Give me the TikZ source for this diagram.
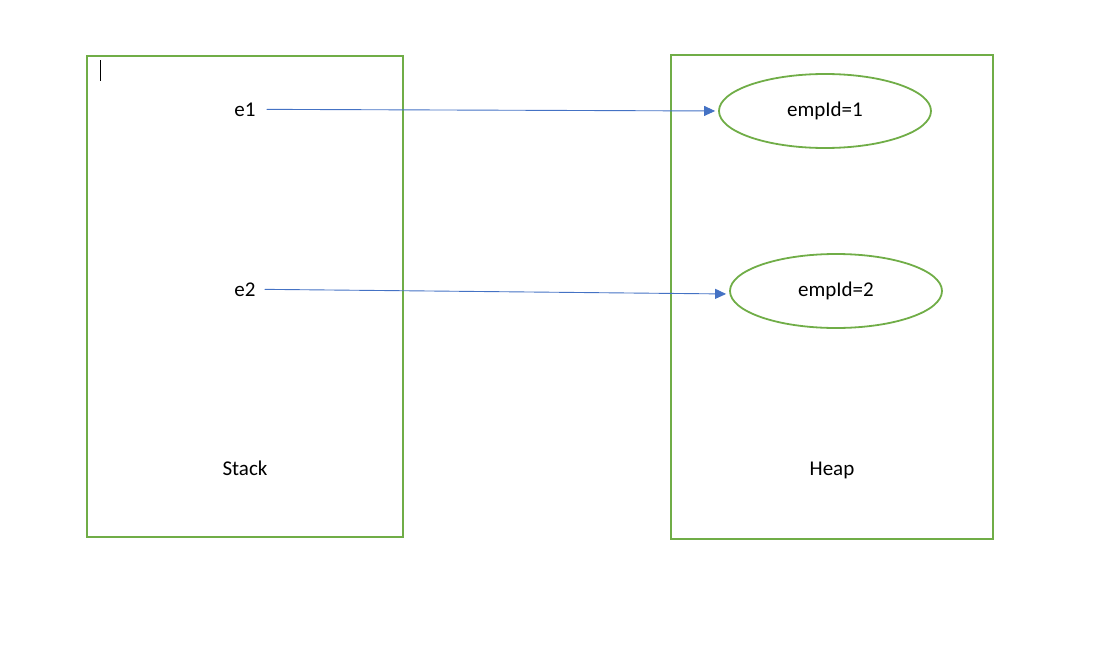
\documentclass[tikz,border=0pt]{standalone}
\usepackage{fontspec}
\setmainfont{Carlito}
\usetikzlibrary{shapes.geometric,arrows.meta,calc}
\definecolor{boxgreen}{HTML}{70AD47}
\definecolor{arrowblue}{HTML}{4472C4}
\tikzset{
  region/.style={draw=boxgreen, line width=1.8pt},
  obj/.style={ellipse, draw=boxgreen, line width=1.8pt, minimum width=212pt, minimum height=74pt, inner sep=0pt, font=\fontsize{21}{25}\selectfont},
  lbl/.style={font=\fontsize{21}{25}\selectfont, inner sep=0pt, anchor=base},
  ref/.style={draw=arrowblue, line width=0.9pt, -{Triangle[length=11pt,width=10pt]}}
}
\begin{document}
\begin{tikzpicture}[x=1pt,y=-1pt]
\useasboundingbox (0,0) rectangle (1095,645);
\draw[region] (87,56) rectangle (403,537);
\draw[region] (671,55) rectangle (993,539);
\draw[black, line width=1pt] (100,60) -- (100,81);
\node[lbl] (e1) at (245,116) {e1};
\node[lbl] (e2) at (245,296) {e2};
\node[lbl] (stack) at (245,475) {Stack};
\node[lbl] (heap) at (832,475) {Heap};
\node[obj] (o1) at (825,111) {empId=1};
\node[obj] (o2) at (836,291) {empId=2};
\draw[ref, shorten <=11pt, shorten >=3pt] ($(e1.east)+(0,0)$) -- ($(o1.west)+(0,0)$);
\draw[ref, shorten <=9pt, shorten >=3pt] ($(e2.east)+(0,0)$) -- ($(o2.west)+(0,3)$);
\end{tikzpicture}
\end{document}
